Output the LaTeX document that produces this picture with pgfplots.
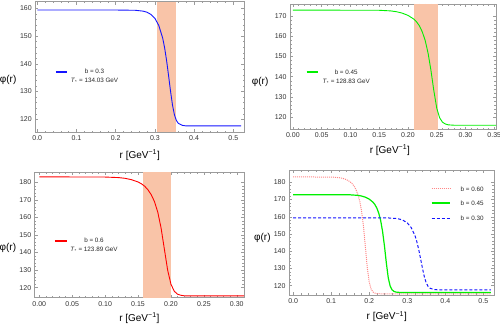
\documentclass[border=0pt]{standalone}
\usepackage{pgfplots}
\usepackage{pgfplotstable}
\pgfplotsset{compat=1.18}
\usepackage{fontspec}
\setmainfont{Liberation Sans}

\definecolor{shade}{RGB}{249,196,168}
\definecolor{framegray}{RGB}{155,155,155}
\definecolor{mgreen}{RGB}{0,240,0}
\definecolor{mblue}{RGB}{20,20,255}
\definecolor{mred}{RGB}{255,0,0}
\definecolor{mpink}{RGB}{255,135,135}

\pgfplotstableread{
r phi
0.000 159.4
0.200 159.4
0.250 159.3
0.270 159.0
0.280 158.6
0.290 157.8
0.300 156.4
0.310 153.8
0.320 149.2
0.325 145.6
0.330 141.0
0.335 135.6
0.340 130.0
0.345 125.0
0.350 121.5
0.355 119.5
0.360 118.5
0.370 117.8
0.380 117.6
0.520 117.6
}\tblA

\pgfplotstableread{
r phi
0.000 172.8
0.150 172.7
0.170 172.4
0.180 172.0
0.190 171.3
0.200 170.2
0.210 168.4
0.215 167.0
0.220 165.0
0.225 162.0
0.230 157.8
0.235 151.5
0.240 143.0
0.245 133.0
0.250 124.5
0.255 119.8
0.260 117.6
0.265 116.7
0.270 116.3
0.280 116.1
0.520 116.1
}\tblB

\pgfplotstableread{
r phi
0.000 183.1
0.100 183.0
0.120 182.7
0.130 182.3
0.140 181.5
0.150 180.2
0.155 179.2
0.160 177.8
0.165 175.8
0.170 173.0
0.175 169.0
0.180 163.0
0.185 154.0
0.190 142.0
0.195 130.0
0.200 122.0
0.205 118.0
0.210 116.3
0.215 115.7
0.220 115.4
0.230 115.3
0.520 115.3
}\tblC

\pgfplotsset{
  mstyle/.style={
    scale only axis, anchor=south west,
    axis line style={framegray, line width=0.5pt},
    every tick/.style={framegray, line width=0.4pt},
    tick align=inside,
    major tick length=3pt, minor tick length=1.7pt,
    minor x tick num=4, minor y tick num=4,
    xtick pos=both, ytick pos=both,
    xticklabel pos=lower, yticklabel pos=left,
    tick label style={font=\fontsize{7}{8}\selectfont, text=black!80},
    /pgf/number format/assume math mode=true,
    xlabel={r [GeV\textsuperscript{−1}]},
    ylabel={φ(r)},
    label style={font=\fontsize{8}{9}\selectfont, text=black!85},
  },
  xfmt/.style={xticklabel style={/pgf/number format/.cd, fixed, fixed zerofill, precision=#1}},
}
\tikzset{leg/.style={font=\fontsize{6.3}{8.7}\selectfont, text=black!85, inner sep=0pt}}

\begin{document}
\begin{tikzpicture}
\path[use as bounding box] (0pt,0pt) rectangle (500pt,330pt);

% Panel 1
\begin{axis}[mstyle, at={(35.3pt,197.7pt)}, width=209pt, height=130.6pt,
  xmin=-0.005, xmax=0.528, ymin=115.3, ymax=162.4,
  xtick={0,0.1,...,0.5}, ytick={120,130,...,160}, xfmt=1,
  every axis y label/.style={at={(axis description cs:-0.13,0.40)}, anchor=center},
  every axis x label/.style={at={(axis description cs:0.5,-0.174)}, anchor=center}]
\addplot[draw=none, fill=shade] coordinates {(0.305,115.3) (0.355,115.3) (0.355,162.4) (0.305,162.4)} -- cycle;
\addplot[mblue, line width=0.9pt] table[x=r, y=phi] {\tblA};
\addplot[mblue, line width=1.3pt] coordinates {(0.0477,137.1) (0.0755,137.1)};
\node[leg, align=center] at (axis cs:0.146,135.6) {b = 0.3\\\textit{T}\textsubscript{*} = 134.03 GeV};
\end{axis}

% Panel 2
\begin{axis}[mstyle, at={(290pt,200.5pt)}, width=206pt, height=125.5pt,
  xmin=-0.005, xmax=0.353, ymin=114, ymax=175.8,
  xtick={0,0.05,...,0.35}, ytick={120,130,...,170}, xfmt=2,
  every axis y label/.style={at={(axis description cs:-0.145,0.38)}, anchor=center},
  every axis x label/.style={at={(axis description cs:0.485,-0.163)}, anchor=center}]
\addplot[draw=none, fill=shade] coordinates {(0.211,114) (0.2515,114) (0.2515,175.8) (0.211,175.8)} -- cycle;
\addplot[mgreen, line width=0.9pt] table[x=r, y=phi] {\tblB};
\addplot[mgreen, line width=1.8pt] coordinates {(0.024,142.5) (0.0442,142.5)};
\node[leg, align=center] at (axis cs:0.0927,139.7) {b = 0.45\\\textit{T}\textsubscript{*} = 128.83 GeV};
\end{axis}

% Panel 3
\begin{axis}[mstyle, at={(34.7pt,32.3pt)}, width=209.3pt, height=125.4pt,
  xmin=-0.007, xmax=0.311, ymin=114.3, ymax=185.7,
  xtick={0,0.05,...,0.30}, ytick={120,130,...,180}, xfmt=2,
  every axis y label/.style={at={(axis description cs:-0.128,0.40)}, anchor=center},
  every axis x label/.style={at={(axis description cs:0.5,-0.162)}, anchor=center}]
\addplot[draw=none, fill=shade] coordinates {(0.157,114.3) (0.200,114.3) (0.200,185.7) (0.157,185.7)} -- cycle;
\addplot[mred, line width=0.9pt] table[x=r, y=phi] {\tblC};
\addplot[mred, line width=1.3pt] coordinates {(0.0238,146.6) (0.0416,146.6)};
\node[leg, align=center] at (axis cs:0.0831,144.1) {b = 0.6\\\textit{T}\textsubscript{*} = 123.89 GeV};
\end{axis}

% Panel 4
\begin{axis}[mstyle, at={(289pt,35pt)}, width=205pt, height=125pt,
  xmin=-0.011, xmax=0.528, ymin=114.6, ymax=187.1,
  xtick={0,0.1,...,0.5}, ytick={120,130,...,180}, xfmt=1,
  every axis y label/.style={at={(axis description cs:-0.13,0.46)}, anchor=center},
  every axis x label/.style={at={(axis description cs:0.477,-0.174)}, anchor=center}]
\addplot[mpink, line width=1pt, dash pattern=on 1pt off 1pt] table[x=r, y=phi] {\tblC};
\addplot[mgreen, line width=1.2pt] table[x=r, y=phi] {\tblB};
\addplot[mblue, line width=1pt, dash pattern=on 3pt off 2pt] table[x=r, y=phi] {\tblA};
% legend samples
\addplot[mpink, line width=1pt, dash pattern=on 1pt off 1pt] coordinates {(0.364,176.1) (0.412,176.1)};
\addplot[mgreen, line width=1.8pt] coordinates {(0.364,167.8) (0.412,167.8)};
\addplot[mblue, line width=1pt, dash pattern=on 3pt off 2pt] coordinates {(0.364,159.1) (0.412,159.1)};
\node[leg, anchor=west] at (axis cs:0.4397,176.1) {b = 0.60};
\node[leg, anchor=west] at (axis cs:0.4397,167.8) {b = 0.45};
\node[leg, anchor=west] at (axis cs:0.4397,159.1) {b = 0.30};
\end{axis}
\end{tikzpicture}
\end{document}
